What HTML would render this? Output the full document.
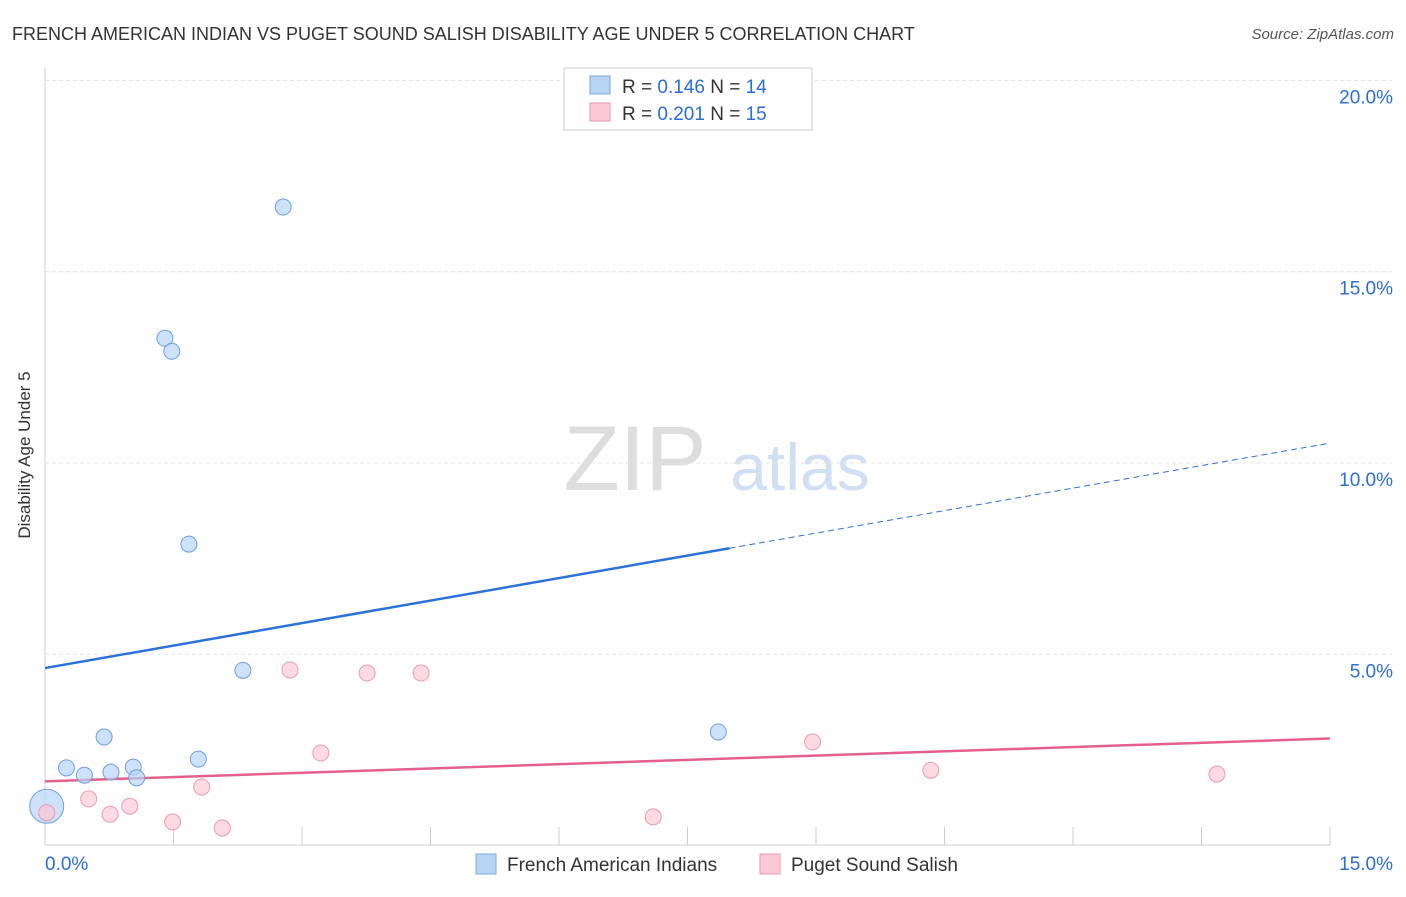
<!DOCTYPE html>
<html><head><meta charset="utf-8"><style>
body{margin:0;background:#fff;font-family:"Liberation Sans",sans-serif;}
svg text{font-family:"Liberation Sans",sans-serif;}
</style></head><body>
<svg id="c" width="1406" height="892">
<text x="12" y="40" font-size="18" fill="#333">FRENCH AMERICAN INDIAN VS PUGET SOUND SALISH DISABILITY AGE UNDER 5 CORRELATION CHART</text>
<text x="1394" y="39" font-size="15" fill="#555" text-anchor="end" font-style="italic">Source: ZipAtlas.com</text>
<text x="30" y="455" font-size="17" fill="#333" text-anchor="middle" transform="rotate(-90 30 455)">Disability Age Under 5</text>
<g><text x="635" y="490" font-size="92" fill="#ddd" text-anchor="middle" font-family="Liberation Serif">ZIP</text><text x="800" y="490" font-size="66" fill="#cfe0f5" text-anchor="middle">atlas</text></g>
<g id="grid"></g><g id="marks"></g>
<g>
<rect x="564" y="68" width="248" height="62" fill="#fff" stroke="#ccc"/>
<rect x="590" y="76" width="20" height="18" fill="#b8d4f5" stroke="#7aa9e0"/>
<text x="622" y="93" font-size="19" fill="#333">R = <tspan fill="#2a6dd6">0.146</tspan>   N = <tspan fill="#2a6dd6">14</tspan></text>
<rect x="590" y="103" width="20" height="18" fill="#fcc9d8" stroke="#e89ab2"/>
<text x="622" y="120" font-size="19" fill="#333">R = <tspan fill="#2a6dd6">0.201</tspan>   N = <tspan fill="#2a6dd6">15</tspan></text>
</g>
<g>
<rect x="476" y="854" width="20" height="20" fill="#b8d4f5" stroke="#7aa9e0"/>
<text x="507" y="871" font-size="19" fill="#333">French American Indians</text>
<rect x="760" y="854" width="20" height="20" fill="#fcc9d8" stroke="#e89ab2"/>
<text x="791" y="871" font-size="19" fill="#333">Puget Sound Salish</text>
</g>
</svg>
<script>
const yTicks=[5,10,15,20];
const xTickLabels=["0.0%","15.0%"];
const blueX=[2.78,1.40,1.48,1.68,2.31,0.69,0.25,0.46,0.77,1.03,1.07,1.79,7.86,0.02];
const blueY=[16.69,13.26,12.92,7.88,4.58,2.84,2.03,1.84,1.92,2.05,1.77,2.26,2.97,1.03];
const pinkX=[2.86,3.76,4.39,3.22,8.96,10.34,13.68,0.51,0.99,0.76,1.83,1.49,2.07,7.10,0.02];
const pinkY=[4.59,4.51,4.51,2.42,2.71,1.97,1.87,1.22,1.03,0.82,1.53,0.62,0.46,0.75,0.86];
const blueTrend=[4.64,10.52];
const pinkTrend=[1.68,2.80];
const X=v=>45+v/15*1285, Y=v=>845.6-v*38.26;
const NS="http://www.w3.org/2000/svg";
function mk(p,t,a){const e=document.createElementNS(NS,t);for(const k in a)e.setAttribute(k,a[k]);p.appendChild(e);return e;}
const g=document.getElementById('grid'),m=document.getElementById('marks');
let ax=mk(g,'line',{x1:45,y1:68,x2:45,y2:845,stroke:'#ccc'});

let bx=mk(g,'line',{x1:45,y1:845,x2:1330,y2:845,stroke:'#ccc'});

yTicks.forEach(t=>{
 let l=mk(g,'line',{x1:45,y1:Y(t),x2:1392,y2:Y(t),stroke:'#e4e4e4','stroke-dasharray':'4,3'});
 
 let tx=mk(g,'text',{x:1393,y:Y(t)+23,'font-size':19,fill:'#2a6dd6','text-anchor':'end'});tx.textContent=t.toFixed(1)+'%';
 
});
for(let i=0;i<=10;i++){let l=mk(g,'line',{x1:X(i*1.5),y1:827,x2:X(i*1.5),y2:845,stroke:'#ccc'});
 }
let t0=mk(g,'text',{x:45,y:870,'font-size':19,fill:'#2a6dd6'});t0.textContent=xTickLabels[0];

let t1=mk(g,'text',{x:1393,y:870,'font-size':19,fill:'#2a6dd6','text-anchor':'end'});t1.textContent=xTickLabels[1];

const bxEnd=7.99, byEnd=blueTrend[0]+(blueTrend[1]-blueTrend[0])*bxEnd/15;
let bl=mk(m,'line',{x1:X(0),y1:Y(blueTrend[0]),x2:X(bxEnd),y2:Y(byEnd),stroke:'#2a72d8','stroke-width':2.5});

let bd=mk(m,'line',{x1:X(bxEnd),y1:Y(byEnd),x2:X(15),y2:Y(blueTrend[1]),stroke:'#2a72d8','stroke-width':1,'stroke-dasharray':'6,4'});

let pl=mk(m,'line',{x1:X(0),y1:Y(pinkTrend[0]),x2:X(15),y2:Y(pinkTrend[1]),stroke:'#e4608a','stroke-width':2.5});

blueX.forEach((v,i)=>{let c=mk(m,'circle',{cx:X(v),cy:Y(blueY[i]),r:i==13?17:8,fill:'#b8d4f5','fill-opacity':0.7,stroke:'#6f9fe0'});
 });
pinkX.forEach((v,i)=>{let c=mk(m,'circle',{cx:X(v),cy:Y(pinkY[i]),r:8,fill:'#fcc9d8','fill-opacity':0.7,stroke:'#e89ab2'});
 });
</script>
</body></html>
